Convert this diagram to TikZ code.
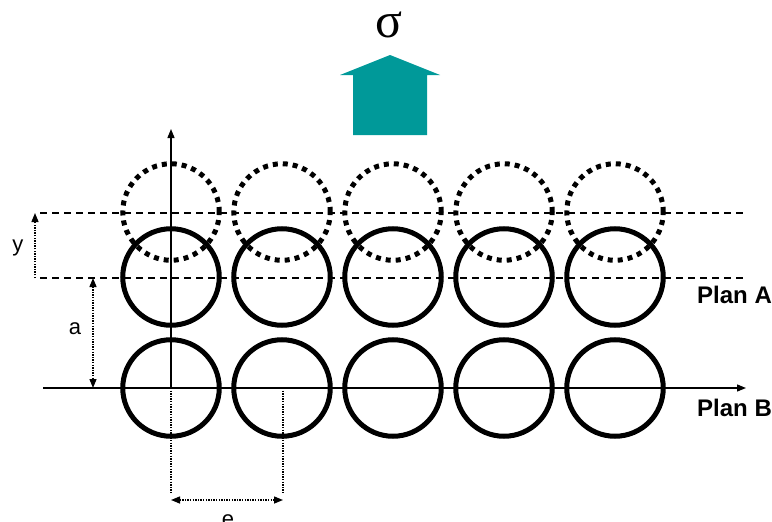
\documentclass[tikz,border=0pt]{standalone}
\usepackage{fontspec}
\setmainfont{Liberation Sans}
\newfontfamily\serifface{Liberation Serif}
\usetikzlibrary{arrows.meta}
\definecolor{tealarrow}{RGB}{0,153,153}
\tikzset{
  ring/.style={circle, draw, line width=5pt, minimum size=96.5pt, inner sep=0pt},
  dotring/.style={circle, draw, line width=5pt, minimum size=96.5pt, inner sep=0pt, dash pattern=on 5pt off 5pt},
  guide/.style={line width=1.4pt, dash pattern=on 7pt off 5pt},
  axis/.style={line width=1.3pt, -{Triangle[length=9pt,width=7pt]}},
  dimline/.style={line width=1.4pt, dash pattern=on 1.4pt off 1.2pt},
  dimtip/.tip={Triangle[length=9pt,width=7pt]},
  lbl/.style={font=\fontsize{22}{26}\selectfont, inner sep=0pt},
  plan/.style={font=\fontsize{24}{28}\selectfont\bfseries, inner sep=0pt, anchor=west}
}
\begin{document}
\begin{tikzpicture}[x=1pt,y=-1pt]
\useasboundingbox (0,0) rectangle (772,522);
\clip (0,0) rectangle (772,522);
% stress arrow
\fill[tealarrow] (340,75) -- (390,55) -- (440,75) -- (427,75) -- (427,135) -- (353,135) -- (353,75) -- cycle;
\node[font=\serifface\fontsize{50}{50}\selectfont, inner sep=0pt] (sigma) at (389,25) {σ};
% guide lines
\coordinate (gAl) at (40,213); \coordinate (gAr) at (745,213);
\coordinate (gBl) at (40,278); \coordinate (gBr) at (745,278);
\draw[guide] (gAl) -- (gAr);
\draw[guide] (gBl) -- (gBr);
% dotted (displaced) circles
\foreach \i in {1,...,5} {
  \node[dotring] (d\i) at ({171+111*(\i-1)},212) {};
}
% plan A circles
\foreach \i in {1,...,5} {
  \node[ring] (a\i) at ({171+111*(\i-1)},277) {};
}
% plan B circles
\foreach \i in {1,...,5} {
  \node[ring] (b\i) at ({171+111*(\i-1)},388) {};
}
% axes
\coordinate (xl) at (43,388); \coordinate (xr) at (746,388);
\coordinate (yb) at (171,388); \coordinate (yt) at (171,129);
\draw[axis] (xl) -- (xr);
\draw[axis] (yb) -- (yt);
% dimension y
\coordinate (ylo) at (35,278); \coordinate (yhi) at (35,213);
\draw[dimline, -dimtip] (ylo) -- (yhi);
\node[lbl] (ylab) at (18,248) {y};
% dimension a
\coordinate (atop) at (93,278); \coordinate (abot) at (93,388);
\draw[dimline, dimtip-dimtip] (atop) -- (abot);
\node[lbl] (alab) at (75,329) {a};
% dimension e
\coordinate (e1a) at (171,388); \coordinate (e1b) at (171,494);
\coordinate (e2a) at (283,388); \coordinate (e2b) at (283,494);
\coordinate (el) at (171,500); \coordinate (er) at (283,500);
\draw[dimline] (e1a) -- (e1b);
\draw[dimline] (e2a) -- (e2b);
\draw[dimline, dimtip-dimtip] (el) -- (er);
\node[lbl] (elab) at (228,521) {e};
% plan labels
\node[plan] (planA) at (697,295) {Plan A};
\node[plan] (planB) at (697,408) {Plan B};
\end{tikzpicture}
\end{document}
